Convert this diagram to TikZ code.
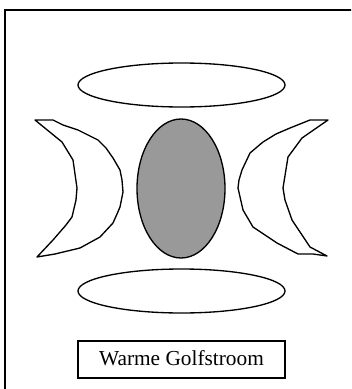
\documentclass[tikz,border=0pt]{standalone}
\usepackage{fontspec}
\setmainfont{Liberation Serif}
\usetikzlibrary{positioning}

\begin{document}
\begin{tikzpicture}[x=0.75pt,y=-0.75pt,
    frame/.style={line width=1.5pt},
    blob/.style={draw,line width=1pt,line join=round}]
  \useasboundingbox (0,0) rectangle (351,389);
  \clip (0,0) rectangle (351,389);
  \draw[frame] (5,10) rectangle (360,400);
  % top and bottom ellipses
  \draw[blob] (181.5,85) ellipse [x radius=103.5,y radius=22];
  \draw[blob] (181.5,291) ellipse [x radius=103.5,y radius=22];
  % centre
  \draw[blob,fill=black!40] (181,188.5) ellipse [x radius=44,y radius=69.5];
  % crescents
  \draw[blob] (35,120) -- (53,120) -- (63,125) -- (78,130) -- (98,140)
        -- (106,148) -- (113,158) -- (120,170) -- (122,180) -- (123,192)
        -- (120,207) -- (117,214) -- (113,223) -- (100,237) -- (80,248)
        -- (55,254) -- (37,257) -- (53,240) -- (66,225) -- (72,217)
        -- (76,200) -- (77,188) -- (73,160) -- (62,142) -- cycle;
  \draw[blob] (328,120) -- (310,120) -- (290,128) -- (276,134) -- (263,142)
        -- (250,153) -- (242,170) -- (239,180) -- (238,188) -- (243,210)
        -- (253,227) -- (277,243) -- (298,254) -- (313,254) -- (327,256)
        -- (310,247) -- (292,220) -- (285,200) -- (283,188) -- (288,157)
        -- (302,138) -- cycle;
  % label box
  \draw[frame] (78,341) rectangle (285,378);
  \node[anchor=base,inner sep=0pt,font=\fontsize{16}{19}\selectfont]
        (stroom) at (181.5,365) {Warme Golfstroom};
\end{tikzpicture}
\end{document}
